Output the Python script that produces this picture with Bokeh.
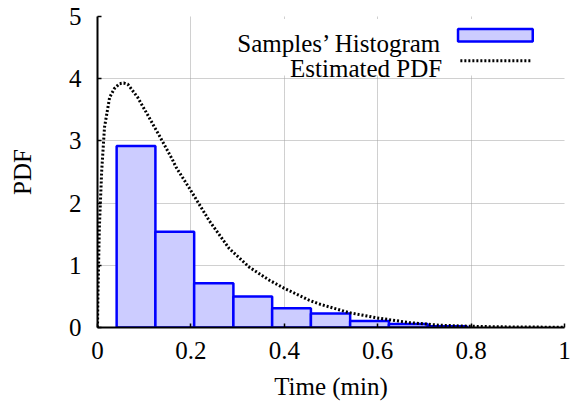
from bokeh.plotting import figure
from bokeh.models import Range1d, FixedTicker, BoxAnnotation, Label, Arrow
from bokeh.embed import file_html
from bokeh.resources import INLINE

# ---- data ----
bin_edges = [0.041, 0.124, 0.207, 0.291, 0.374, 0.457, 0.541, 0.624, 0.707, 0.791]
bin_heights = [2.92, 1.54, 0.71, 0.50, 0.31, 0.225, 0.105, 0.055, 0.022]

pdf_x = [0.0, 0.001, 0.004, 0.009, 0.015, 0.026, 0.036, 0.047, 0.056, 0.065, 0.075,
         0.086, 0.105, 0.122, 0.132, 0.161, 0.168, 0.200, 0.239, 0.282, 0.325,
         0.368, 0.400, 0.453, 0.474, 0.538, 0.598, 0.667, 0.731, 0.795, 0.85,
         0.90, 1.0]
pdf_y = [0.0, 0.55, 1.61, 2.52, 3.22, 3.70, 3.84, 3.92, 3.93, 3.91, 3.81,
         3.70, 3.45, 3.22, 3.09, 2.69, 2.58, 2.20, 1.72, 1.27, 0.97,
         0.76, 0.63, 0.44, 0.38, 0.24, 0.155, 0.08, 0.037, 0.02, 0.012,
         0.008, 0.004]

x_ticks = [0, 0.2, 0.4, 0.6, 0.8, 1]
x_tick_labels = ["0", "0.2", "0.4", "0.6", "0.8", "1"]
y_ticks = [0, 1, 2, 3, 4, 5]
y_tick_labels = ["0", "1", "2", "3", "4", "5"]

legend_labels = ["Samples\u2019 Histogram", "Estimated PDF"]
x_label = "Time (min)"
y_label = "PDF"

FONT = "Liberation Serif"
FS = "25px"

p = figure(width=579, height=402, output_backend="svg", toolbar_location=None,
           x_range=Range1d(0, 1), y_range=Range1d(0, 5),
           min_border_left=97, min_border_right=15, min_border_top=16, min_border_bottom=75)
p.outline_line_color = None
p.background_fill_color = "white"

# grid
for g in (p.xgrid, p.ygrid):
    g.grid_line_color = "#A0A0A0"
    g.grid_line_dash = "1 1"
    g.grid_line_width = 1
p.xgrid.ticker = FixedTicker(ticks=x_ticks)
p.ygrid.ticker = FixedTicker(ticks=y_ticks)

# axes
p.xaxis.ticker = FixedTicker(ticks=x_ticks)
p.yaxis.ticker = FixedTicker(ticks=y_ticks)
p.xaxis.major_label_overrides = dict(zip(x_ticks, x_tick_labels))
p.yaxis.major_label_overrides = dict(zip(y_ticks, y_tick_labels))
for ax in (p.xaxis, p.yaxis):
    ax.axis_line_color = "black"
    ax.axis_line_width = 2
    ax.major_tick_in = 4
    ax.major_tick_out = 0
    ax.major_tick_line_color = "black"
    ax.major_tick_line_width = 1.5
    ax.minor_tick_line_color = None
    ax.major_label_text_font = FONT
    ax.major_label_text_font_size = FS
    ax.major_label_text_color = "black"
    ax.axis_label_text_font = FONT
    ax.axis_label_text_font_size = FS
    ax.axis_label_text_font_style = "normal"
    ax.axis_label_text_color = "black"
p.xaxis.axis_label = x_label
p.yaxis.axis_label = y_label
p.xaxis.major_label_standoff = 14
p.xaxis.axis_label_standoff = 11
p.yaxis.major_label_standoff = 16
p.yaxis.axis_label_standoff = 30

# histogram
p.quad(left=bin_edges[:-1], right=bin_edges[1:], bottom=0, top=bin_heights,
       fill_color="#CCCCFF", line_color="#0000FF", line_width=2.5)

# estimated pdf
p.line(pdf_x, pdf_y, line_color="black", line_width=3, line_dash="2 2")

# custom legend (labels left, samples right)
p.add_layout(BoxAnnotation(left=0.297, right=0.994, bottom=4.05, top=4.96,
                           fill_color="white", fill_alpha=1.0, line_color=None))
p.add_layout(Label(x=0.738, y=4.56, text=legend_labels[0], text_align="right",
                   text_baseline="alphabetic", text_font=FONT, text_font_size=FS,
                   text_color="black"))
p.add_layout(Label(x=0.738, y=4.16, text=legend_labels[1], text_align="right",
                   text_baseline="alphabetic", text_font=FONT, text_font_size=FS,
                   text_color="black"))
p.add_layout(BoxAnnotation(left=0.772, right=0.932, bottom=4.60, top=4.80,
                           fill_color="#CCCCFF", fill_alpha=1.0,
                           line_color="#0000FF", line_alpha=1.0, line_width=2.5))
p.add_layout(Arrow(end=None, x_start=0.777, y_start=4.29, x_end=0.930, y_end=4.29,
                   line_color="black", line_width=3, line_dash="2 2"))

open("out.html", "w").write(file_html(p, INLINE))
